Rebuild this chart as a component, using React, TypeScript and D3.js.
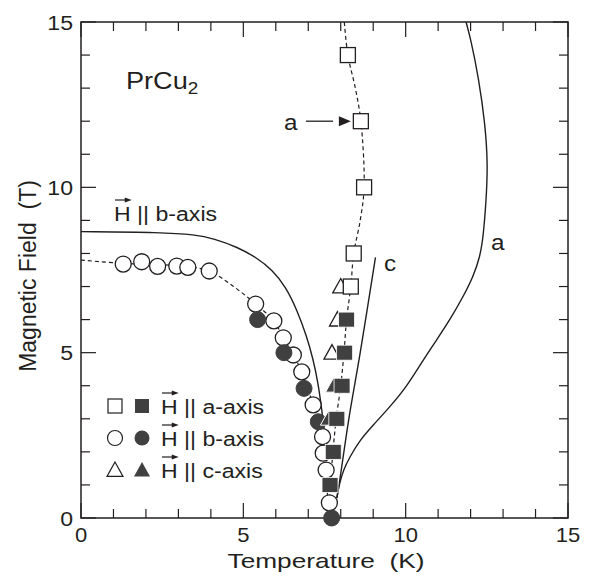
import React from "react";
import * as d3 from "d3";

// ---- data ----
const xTicks = [0, 5, 10, 15];
const yTicks = [0, 5, 10, 15];

// H || a-axis, open squares (T, H)
const aOpen: [number, number][] = [[8.22, 14], [8.62, 12], [8.72, 10], [8.4, 8], [8.31, 7]];
// H || a-axis, filled squares
const aFilled: [number, number][] = [[8.18, 6], [8.12, 5], [8.04, 4], [7.88, 3], [7.77, 2], [7.67, 1]];
// H || b-axis, open circles
const bOpen: [number, number][] = [
  [1.3, 7.68], [1.87, 7.75], [2.36, 7.61], [2.95, 7.62], [3.29, 7.58], [3.95, 7.47],
  [5.38, 6.47], [5.94, 5.96], [6.23, 5.45], [6.54, 4.93], [6.8, 4.42], [7.15, 3.42],
  [7.44, 2.46], [7.46, 1.96], [7.55, 1.45], [7.65, 0.46],
];
// H || b-axis, filled circles
const bFilled: [number, number][] = [[5.44, 6.0], [6.25, 5.0], [6.87, 3.92], [7.31, 2.91], [7.72, 0]];
// H || c-axis, open triangles
const cOpen: [number, number][] = [[8.0, 7], [7.9, 6], [7.73, 5]];
// H || c-axis, filled triangles
const cFilled: [number, number][] = [[7.78, 4], [7.62, 3]];

// phase boundary lines
const bSolid: [number, number][] = [
  [0, 8.66], [2.5, 8.64], [3.5, 8.57], [4.1, 8.45], [4.8, 8.2], [5.4, 7.88], [5.9, 7.5],
  [6.3, 7.0], [6.65, 6.3], [6.95, 5.5], [7.15, 4.8], [7.3, 4.1], [7.41, 3.32], [7.5, 2.6], [7.57, 2.0],
];
const cSolid: [number, number][] = [[9.07, 7.88], [8.6, 5.0], [8.25, 3.0], [7.97, 1.15], [7.88, 0.6]];
const aSolid: [number, number][] = [
  [11.86, 15], [12.0, 14.5], [12.25, 13.3], [12.45, 11.9], [12.53, 10.7], [12.48, 9.6], [12.39, 8.51],
  [12.29, 7.9], [12.08, 7.3], [11.77, 6.69], [11.36, 5.99], [10.95, 5.38], [10.54, 4.78],
  [10.03, 3.97], [9.52, 3.37], [9.0, 2.81], [8.59, 2.36], [8.28, 1.85], [8.08, 1.45], [7.95, 1.0], [7.88, 0.6],
];
const aDashed: [number, number][] = [
  [8.11, 15], [8.22, 14], [8.45, 13], [8.62, 12], [8.72, 10], [8.6, 9], [8.4, 8], [8.31, 7],
  [8.18, 6], [8.1, 5], [8.0, 4], [7.86, 3], [7.76, 2], [7.68, 1], [7.65, 0.4],
];
const bDashed: [number, number][] = [
  [0, 7.8], [1.3, 7.7], [2.5, 7.66], [3.3, 7.6], [3.95, 7.47], [4.7, 7.0], [5.38, 6.47],
  [5.94, 5.96], [6.23, 5.45], [6.54, 4.93], [6.8, 4.42], [7.15, 3.42], [7.44, 2.46], [7.5, 1.5], [7.62, 0.5],
];

const legendRows = ["a-axis", "b-axis", "c-axis"];

// ---- style ----
const INK = "#231f20";
const FILL = "#404041";
const FONT = "'Liberation Sans', Arial, Helvetica, sans-serif";
const SX = 1.1;

const W = 592, H = 579;
const x = d3.scaleLinear().domain([0, 15]).range([81, 568]);
const y = d3.scaleLinear().domain([0, 15]).range([518, 22]);

const line = d3.line<[number, number]>().x(d => x(d[0])).y(d => y(d[1])).curve(d3.curveCatmullRom.alpha(0.5));
const smooth = d3.line<[number, number]>().x(d => x(d[0])).y(d => y(d[1])).curve(d3.curveBasis);

function Txt({ x: tx, y: ty, size = 21, anchor = "start", sx = SX, children }: any) {
  return (
    <text transform={`translate(${tx},${ty}) scale(${sx},1)`} fontSize={size} textAnchor={anchor}
      fill={INK} fontFamily={FONT} style={{ whiteSpace: "pre" }}>{children}</text>
  );
}

function VecH({ x0, y0, label }: { x0: number; y0: number; label: string }) {
  const hw = 15.2 * SX;
  const ay = y0 - 21;
  return (
    <g>
      <line x1={x0 + 1} x2={x0 + hw - 4} y1={ay} y2={ay} stroke={INK} strokeWidth={1.2} />
      <path d={`M${x0 + hw + 1},${ay} L${x0 + hw - 6},${ay - 2.5} L${x0 + hw - 6},${ay + 2.5} Z`} fill={INK} />
      <Txt x={x0} y={y0}>{`H || ${label}`}</Txt>
    </g>
  );
}

const tri = (cx: number, cy: number, s = 8) => `M${cx},${cy - s} L${cx + s},${cy + s * 0.8} L${cx - s},${cy + s * 0.8} Z`;

export default function App() {
  const minor = d3.range(0, 16);
  return (
    <svg width={W} height={H} style={{ position: "absolute", left: 0, top: 0, background: "#fff" }}>
      {/* ticks */}
      {minor.map(v => {
        const L = v % 5 === 0 ? 15 : 9;
        return (
          <g key={v} stroke={INK} strokeWidth={1.2}>
            <line x1={x(v)} x2={x(v)} y1={y(0)} y2={y(0) - L} />
            <line x1={x(v)} x2={x(v)} y1={y(15)} y2={y(15) + L} />
            <line y1={y(v)} y2={y(v)} x1={x(0)} x2={x(0) + L} />
            <line y1={y(v)} y2={y(v)} x1={x(15)} x2={x(15) - L} />
          </g>
        );
      })}
      <rect x={x(0)} y={y(15)} width={x(15) - x(0)} height={y(0) - y(15)} fill="none" stroke={INK} strokeWidth={1.5} />

      {/* tick labels */}
      {xTicks.map(v => <Txt key={"x" + v} x={x(v)} y={542} size={20} anchor="middle">{String(v)}</Txt>)}
      {yTicks.map(v => <Txt key={"y" + v} x={73} y={y(v) + 7.5} size={21} anchor="end">{String(v)}</Txt>)}

      {/* axis titles */}
      <Txt x={326} y={568} size={21} sx={1.25} anchor="middle">{"Temperature  (K)"}</Txt>
      <text transform="translate(36,276) rotate(-90)" fontSize={23} textAnchor="middle" fill={INK}
        fontFamily={FONT} style={{ whiteSpace: "pre" }}>{"Magnetic Field  (T)"}</text>

      {/* lines */}
      <g fill="none" stroke={INK}>
        <path d={smooth(bSolid)!} strokeWidth={1.4} />
        <path d={line(cSolid)!} strokeWidth={1.4} />
        <path d={smooth(aSolid)!} strokeWidth={1.4} />
        <path d={line(aDashed)!} strokeWidth={1.2} strokeDasharray="4,3" />
        <path d={line(bDashed)!} strokeWidth={1.2} strokeDasharray="4,3" />
      </g>

      {/* markers */}
      {bOpen.map((d, i) => <circle key={"bo" + i} cx={x(d[0])} cy={y(d[1])} r={8} fill="#fff" stroke={INK} strokeWidth={1.3} />)}
      {bFilled.map((d, i) => <circle key={"bf" + i} cx={x(d[0])} cy={y(d[1])} r={8} fill={FILL} stroke={FILL} strokeWidth={1} />)}
      {cOpen.map((d, i) => <path key={"co" + i} d={tri(x(d[0]), y(d[1]))} fill="#fff" stroke={INK} strokeWidth={1.3} />)}
      {cFilled.map((d, i) => <path key={"cf" + i} d={tri(x(d[0]), y(d[1]))} fill={FILL} stroke="#fff" strokeWidth={1} />)}
      {aOpen.map((d, i) => <rect key={"ao" + i} x={x(d[0]) - 7.5} y={y(d[1]) - 7.5} width={15} height={15} fill="#fff" stroke={INK} strokeWidth={1.3} />)}
      {aFilled.map((d, i) => <rect key={"af" + i} x={x(d[0]) - 8} y={y(d[1]) - 7.5} width={16} height={15} fill={FILL} stroke="#fff" strokeWidth={0.8} />)}

      {/* annotations */}
      <Txt x={126} y={89} size={23} sx={1.18}>PrCu<tspan fontSize={16} dy={5}>2</tspan></Txt>
      <VecH x0={114} y0={221} label="b-axis" />
      <Txt x={284} y={130} size={22}>a</Txt>
      <line x1={306} x2={333} y1={y(12)} y2={y(12)} stroke={INK} strokeWidth={1.3} />
      <path d={`M${x(8.62) - 10},${y(12)} L${x(8.62) - 22},${y(12) - 5} L${x(8.62) - 22},${y(12) + 5} Z`} fill={INK} />
      <Txt x={384} y={271} size={22}>c</Txt>
      <Txt x={491} y={250} size={22}>a</Txt>

      {/* legend */}
      {legendRows.map((lab, i) => {
        const cy = 406 + i * 32;
        return (
          <g key={lab}>
            {i === 0 && <rect x={108} y={cy - 7} width={14} height={14} fill="#fff" stroke={INK} strokeWidth={1.2} />}
            {i === 0 && <rect x={135} y={cy - 7} width={14} height={14} fill={FILL} />}
            {i === 1 && <circle cx={115} cy={cy} r={7.5} fill="#fff" stroke={INK} strokeWidth={1.2} />}
            {i === 1 && <circle cx={142} cy={cy} r={7.5} fill={FILL} />}
            {i === 2 && <path d={tri(115, cy, 8)} fill="#fff" stroke={INK} strokeWidth={1.2} />}
            {i === 2 && <path d={tri(142, cy, 8)} fill={FILL} />}
            <VecH x0={161} y0={cy + 8} label={lab} />
          </g>
        );
      })}
    </svg>
  );
}
